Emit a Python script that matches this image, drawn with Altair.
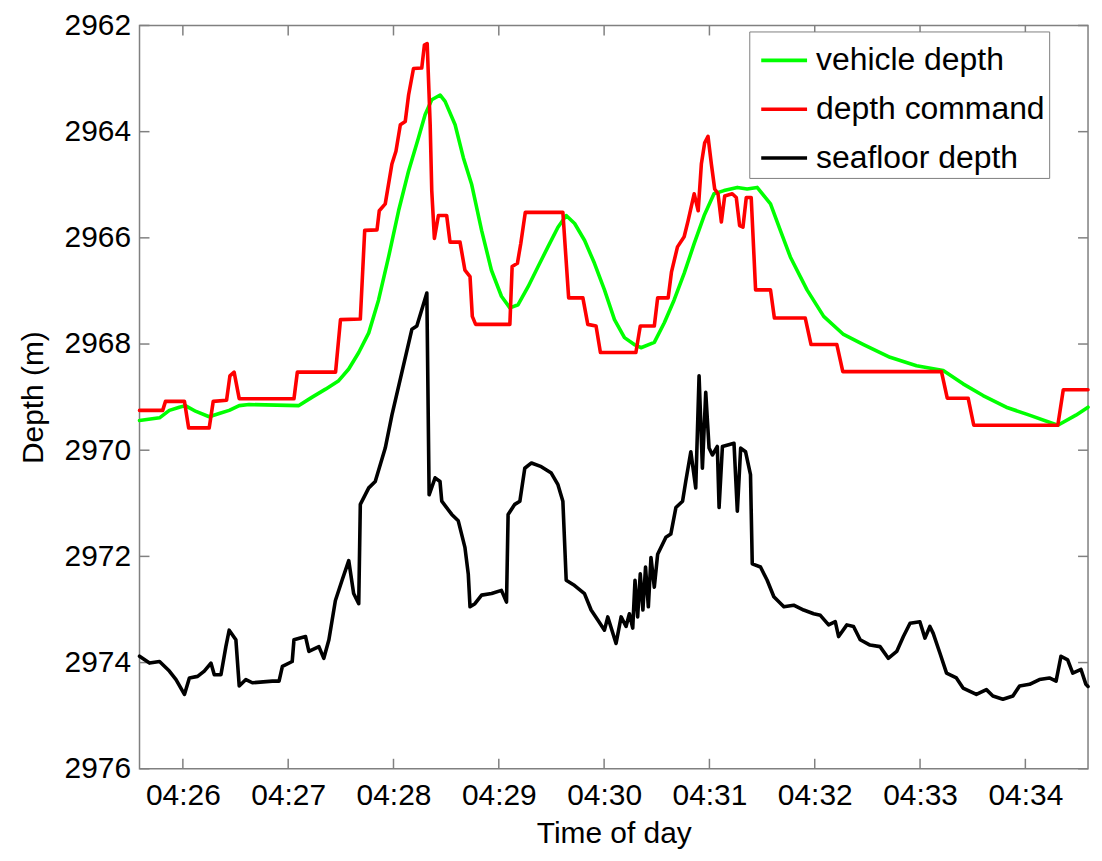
import altair as alt
import pandas as pd

# times are seconds after 04:25:00, depths in metres
series_names = ["vehicle depth", "depth command", "seafloor depth"]
series_colors = ["#00ff00", "#ff0000", "#000000"]

veh_t = [35.3, 46.7, 52.3, 58.0, 61.4, 67.5, 75.0, 80.7, 86.4, 92.1,
         97.7, 126.1, 133.7, 141.3, 148.8, 154.5, 160.2, 165.9, 171.5, 177.2,
         182.9, 188.6, 194.2, 198.0, 201.8, 206.6, 209.4, 215.1, 219.8, 224.5,
         230.2, 235.8, 241.5, 246.3, 251.0, 256.7, 262.4, 268.0, 273.7, 278.4,
         283.2, 288.9, 294.5, 300.2, 305.9, 311.6, 317.2, 321.0, 328.6, 334.3,
         339.9, 345.6, 351.3, 357.0, 362.6, 368.3, 375.9, 381.5, 387.2, 394.8,
         400.4, 406.1, 415.6, 425.1, 436.4, 447.8, 462.9, 478.0, 493.2, 504.5,
         515.9, 529.1, 542.3, 558.5, 568.8, 575.7]
veh_d = [2969.44, 2969.39, 2969.25, 2969.19, 2969.16, 2969.27, 2969.37, 2969.31, 2969.25, 2969.16,
         2969.14, 2969.16, 2969.00, 2968.85, 2968.69, 2968.47, 2968.16, 2967.79, 2967.17, 2966.36,
         2965.49, 2964.74, 2964.12, 2963.68, 2963.40, 2963.31, 2963.43, 2963.87, 2964.49, 2964.99,
         2965.86, 2966.61, 2967.10, 2967.32, 2967.26, 2966.92, 2966.54, 2966.17, 2965.80, 2965.58,
         2965.73, 2966.05, 2966.48, 2966.98, 2967.54, 2967.88, 2968.01, 2968.07, 2967.97, 2967.60,
         2967.17, 2966.67, 2966.11, 2965.58, 2965.17, 2965.11, 2965.05, 2965.08, 2965.05, 2965.36,
         2965.86, 2966.36, 2966.98, 2967.48, 2967.82, 2968.01, 2968.25, 2968.41, 2968.50, 2968.75,
         2968.97, 2969.19, 2969.34, 2969.53, 2969.34, 2969.19]

cmd_t = [35.3, 48.5, 50.1, 60.9, 63.3, 75.0, 77.3, 84.9, 86.8, 89.2,
         92.1, 123.3, 125.2, 147.0, 149.8, 161.1, 163.6, 170.6, 171.9, 175.3,
         179.1, 181.4, 183.9, 186.7, 188.6, 191.4, 196.1, 197.6, 199.2, 200.9,
         201.8, 203.3, 205.6, 210.3, 212.2, 217.9, 220.7, 223.6, 224.9, 226.8,
         246.3, 247.6, 250.6, 252.5, 255.1, 276.5, 279.8, 287.9, 290.7, 295.4,
         297.9, 318.1, 320.6, 328.6, 330.5, 336.5, 338.4, 341.8, 345.6, 347.9,
         351.3, 353.6, 355.4, 357.3, 359.2, 361.1, 363.0, 364.9, 366.8, 368.7,
         373.0, 375.3, 377.2, 379.1, 381.0, 383.8, 386.3, 394.8, 397.0, 414.6,
         417.9, 432.6, 436.0, 492.2, 495.5, 507.4, 510.6, 558.5, 561.6, 575.7]
cmd_d = [2969.25, 2969.25, 2969.08, 2969.08, 2969.58, 2969.58, 2969.08, 2969.06, 2968.60, 2968.53,
         2969.03, 2969.03, 2968.53, 2968.53, 2967.54, 2967.53, 2965.86, 2965.85, 2965.49, 2965.36,
         2964.61, 2964.37, 2963.87, 2963.81, 2963.31, 2962.81, 2962.80, 2962.37, 2962.34, 2963.87,
         2965.11, 2966.01, 2965.58, 2965.58, 2966.08, 2966.08, 2966.61, 2966.73, 2967.48, 2967.63,
         2967.63, 2966.54, 2966.48, 2966.11, 2965.52, 2965.52, 2967.13, 2967.13, 2967.63, 2967.66,
         2968.16, 2968.16, 2967.66, 2967.66, 2967.13, 2967.13, 2966.64, 2966.17, 2965.98, 2965.67,
         2965.17, 2965.49, 2964.61, 2964.21, 2964.09, 2964.61, 2965.08, 2965.17, 2965.70, 2965.21,
         2965.17, 2965.24, 2965.77, 2965.80, 2965.24, 2965.24, 2966.98, 2966.98, 2967.51, 2967.51,
         2968.01, 2968.01, 2968.52, 2968.52, 2969.02, 2969.02, 2969.53, 2969.53, 2968.86, 2968.86]

sea_t = [35.3, 41.0, 46.7, 52.3, 56.1, 60.9, 63.7, 68.4, 72.2, 76.0,
         77.9, 81.7, 84.5, 86.4, 90.2, 92.1, 95.9, 99.6, 111.0, 114.8,
         116.7, 122.3, 123.3, 129.9, 131.8, 137.5, 140.3, 143.2, 146.9, 150.7,
         154.5, 157.3, 160.2, 161.1, 165.9, 169.6, 175.3, 179.1, 184.8, 190.5,
         193.3, 199.0, 200.3, 203.7, 206.5, 207.5, 213.2,
         216.9, 220.7, 222.6, 223.6, 226.4, 230.2, 235.9, 241.5, 244.4, 245.3,
         249.1, 252.0, 254.8, 258.6, 264.2, 269.9, 273.7, 276.5, 278.4, 283.2,
         288.8, 292.6, 296.4, 300.2, 302.1, 306.8, 309.7, 312.5, 314.4, 316.3,
         317.6, 319.1, 320.6, 322.1, 323.6, 325.2, 326.7, 328.6, 330.5, 335.2,
         338.0, 340.9, 344.7, 346.5, 349.4, 352.2, 354.1, 356.0, 357.9, 359.8,
         361.7, 364.5, 365.5, 367.4, 374.0, 375.9, 377.8, 380.6, 383.4, 384.4,
         389.1, 392.9,
         396.7, 402.4, 408.0, 413.7, 419.4, 423.2, 427.9, 431.7, 433.6, 438.3,
         442.1, 445.9, 451.5, 457.2, 461.9, 466.7, 470.5, 474.3, 479.9, 482.8,
         485.6, 487.5, 491.3, 495.1, 500.7, 504.5, 512.1, 517.8, 521.5, 527.2,
         532.9, 536.7, 542.4, 548.0, 553.7, 557.5, 560.3, 564.1, 567.0, 571.7,
         574.5, 575.7]
sea_d = [2973.88, 2974.01, 2973.98, 2974.16, 2974.32, 2974.60, 2974.29, 2974.26, 2974.16, 2974.01,
         2974.23, 2974.23, 2973.70, 2973.39, 2973.57, 2974.44, 2974.32, 2974.38, 2974.35, 2974.35,
         2974.07, 2973.98, 2973.57, 2973.51, 2973.79, 2973.70, 2973.92, 2973.57, 2972.83, 2972.45,
         2972.08, 2972.70, 2972.89, 2971.02, 2970.71, 2970.59, 2969.96, 2969.34, 2968.53, 2967.72,
         2967.66, 2967.04, 2970.84, 2970.52, 2970.59, 2970.96, 2971.21,
         2971.33, 2971.83, 2972.33, 2972.95, 2972.89, 2972.73, 2972.70, 2972.64, 2972.86, 2971.21,
         2971.02, 2970.96, 2970.34, 2970.24, 2970.31, 2970.43, 2970.65, 2970.96, 2972.45, 2972.55,
         2972.70, 2973.01, 2973.20, 2973.39, 2973.14, 2973.64, 2973.14, 2973.32, 2973.08, 2973.35,
         2972.45, 2973.14, 2972.33, 2973.01, 2972.20, 2972.95, 2972.02, 2972.58, 2971.96, 2971.64,
         2971.58, 2971.08, 2970.96, 2970.59, 2970.03, 2970.71, 2968.60, 2970.34, 2968.91, 2969.96,
         2970.09, 2969.93, 2971.08, 2969.93, 2969.87, 2971.15, 2969.96, 2970.03, 2970.46, 2972.14,
         2972.20, 2972.45,
         2972.76, 2972.95, 2972.92, 2973.01, 2973.08, 2973.11, 2973.29, 2973.23, 2973.51, 2973.29,
         2973.32, 2973.57, 2973.67, 2973.70, 2973.92, 2973.79, 2973.51, 2973.26, 2973.23, 2973.54,
         2973.32, 2973.45, 2973.82, 2974.20, 2974.29, 2974.48, 2974.60, 2974.51, 2974.63, 2974.69,
         2974.63, 2974.44, 2974.41, 2974.32, 2974.29, 2974.35, 2973.88, 2973.95, 2974.20, 2974.13,
         2974.41, 2974.45]

x_ticks = [60, 120, 180, 240, 300, 360, 420, 480, 540]
x_tick_labels = ["04:26", "04:27", "04:28", "04:29", "04:30", "04:31", "04:32", "04:33", "04:34"]
y_ticks = [2962, 2964, 2966, 2968, 2970, 2972, 2974, 2976]
x_domain = [35.3, 575.7]
y_domain = [2962, 2976]

W, H = 952, 746
FONT = "Liberation Sans"
FRAME = "#808080"

frames = []
for name, t, d in [(series_names[0], veh_t, veh_d),
                   (series_names[1], cmd_t, cmd_d),
                   (series_names[2], sea_t, sea_d)]:
    frames.append(pd.DataFrame({"t": t, "depth": d, "series": name, "idx": list(range(len(t)))}))
df = pd.concat(frames, ignore_index=True)

label_expr = ("[" + ",".join("'%s'" % s for s in x_tick_labels) + "][indexof(["
              + ",".join(str(v) for v in x_ticks) + "], datum.value)]")

xscale = alt.Scale(domain=x_domain, nice=False, zero=False)
yscale = alt.Scale(domain=y_domain, reverse=True, nice=False, zero=False)

axis_style = dict(domain=False, ticks=False, grid=False,
                  labelFont=FONT, labelFontSize=30, labelColor="black",
                  titleFont=FONT, titleFontSize=30, titleFontWeight="normal",
                  titleColor="black")

xaxis = alt.Axis(values=x_ticks, labelExpr=label_expr, title="Time of day",
                 labelPadding=12, titlePadding=8, **axis_style)
yaxis = alt.Axis(values=y_ticks, format="d", title="Depth (m)",
                 labelPadding=9, titlePadding=16, **axis_style)

lines = alt.Chart(df).mark_line(strokeJoin="round", strokeCap="round", strokeWidth=3.6).encode(
    x=alt.X("t:Q", scale=xscale, axis=xaxis),
    y=alt.Y("depth:Q", scale=yscale, axis=yaxis),
    color=alt.Color("series:N",
                    scale=alt.Scale(domain=series_names, range=series_colors),
                    legend=alt.Legend(title=None, orient="none", legendX=612, legendY=6,
                                      direction="vertical", symbolType="stroke",
                                      symbolSize=2116, symbolStrokeWidth=3.6,
                                      labelFontSize=32, labelFont=FONT, labelColor="black",
                                      labelLimit=500,
                                      strokeColor=FRAME, fillColor="white",
                                      padding=4, symbolOffset=6, labelOffset=7,
                                      rowPadding=8)),
    order="idx:Q",
)

xt_df = pd.DataFrame({"t": x_ticks})
yt_df = pd.DataFrame({"depth": y_ticks})
tick_style = dict(color=FRAME, strokeWidth=1.5)

xt_bottom = alt.Chart(xt_df).mark_rule(**tick_style).encode(
    x=alt.X("t:Q", scale=xscale, axis=xaxis), y=alt.value(H), y2=alt.value(H - 10))
xt_top = alt.Chart(xt_df).mark_rule(**tick_style).encode(
    x=alt.X("t:Q", scale=xscale, axis=xaxis), y=alt.value(0), y2=alt.value(10))
yt_left = alt.Chart(yt_df).mark_rule(**tick_style).encode(
    y=alt.Y("depth:Q", scale=yscale, axis=yaxis), x=alt.value(0), x2=alt.value(10))
yt_right = alt.Chart(yt_df).mark_rule(**tick_style).encode(
    y=alt.Y("depth:Q", scale=yscale, axis=yaxis), x=alt.value(W), x2=alt.value(W - 10))

chart = alt.layer(xt_bottom, xt_top, yt_left, yt_right, lines).properties(
    width=W, height=H,
    background="white",
    autosize=alt.AutoSizeParams(type="none"),
    padding={"left": 132, "top": 16, "right": 6, "bottom": 80},
).configure_view(
    stroke=FRAME, strokeWidth=1.5
)

chart.save("out.html", embed_options={"renderer": "svg", "actions": False})
